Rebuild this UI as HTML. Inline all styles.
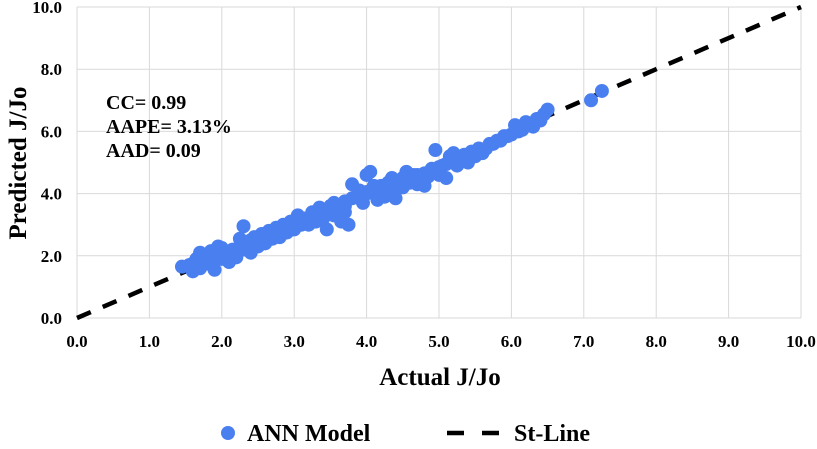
<!DOCTYPE html>
<html><head><meta charset="utf-8"><style>
body{margin:0;background:#fff;width:817px;height:444px;overflow:hidden}
svg{font-family:"Liberation Serif",serif;font-weight:bold}
</style></head><body>
<svg id="c" width="817" height="444"></svg>
<script>
const xTicks=[0,1,2,3,4,5,6,7,8,9,10];
const yTicks=[0,2,4,6,8,10];
const annX=[1.45,1.55,1.6,1.65,1.7,1.75,1.8,1.85,1.9,1.95,2.0,1.7,1.85,2.05,2.1,2.15,2.2,2.25,2.3,2.3,2.35,2.4,2.45,2.5,2.55,2.6,2.65,2.7,2.75,2.8,2.85,2.9,2.95,3.0,3.05,3.1,3.15,3.2,3.25,3.3,3.35,3.4,3.45,3.5,3.55,3.6,3.65,3.7,3.75,3.8,3.85,3.9,3.95,4.0,4.05,4.1,4.15,4.2,4.25,4.3,4.35,4.4,4.45,4.5,4.55,4.6,4.65,4.7,4.75,4.8,4.85,4.9,4.95,5.0,5.05,5.1,5.15,5.2,5.25,5.3,5.4,5.5,5.6,5.65,5.75,5.85,5.9,6.0,6.05,6.1,6.2,6.3,6.35,6.45,6.5,7.1,7.25,2.0,2.2,2.6,3.0,3.4,4.0,4.5,3.6,1.6,
1.75,1.8,1.9,2.0,2.1,2.25,2.4,2.5,2.6,2.7,2.8,2.9,3.0,3.1,3.2,3.3,3.4,3.5,3.6,3.7,3.8,3.9,4.0,4.1,4.2,4.3,4.4,4.5,4.6,4.7,4.8,4.9,5.0,5.1,5.2,5.35,5.45,5.55,5.7,5.8,5.95,6.15,6.25,6.4,3.55,3.7,3.5,4.1,4.35,4.85];
const annY=[1.65,1.7,1.5,1.9,1.6,2.0,1.75,2.15,1.55,2.3,1.9,2.1,1.85,2.1,1.8,2.2,1.95,2.55,2.95,2.2,2.4,2.1,2.6,2.3,2.7,2.4,2.8,2.55,2.9,2.6,3.0,2.75,3.1,2.85,3.3,3.0,3.2,3.0,3.4,3.1,3.55,3.2,2.85,3.45,3.7,3.3,3.1,3.6,3.0,4.3,3.9,4.1,3.7,4.6,4.7,4.0,3.8,4.2,3.9,4.35,4.1,3.85,4.4,4.2,4.7,4.35,4.6,4.3,4.5,4.25,4.6,4.8,5.4,4.6,4.9,4.5,5.2,5.3,4.9,5.1,5.0,5.2,5.3,5.45,5.6,5.7,5.85,5.9,6.2,6.0,6.3,6.15,6.4,6.55,6.7,7.0,7.3,2.25,2.05,2.6,3.1,3.45,4.0,4.5,3.5,1.75,
1.85,2.05,2.0,2.15,2.05,2.3,2.5,2.55,2.65,2.75,2.8,2.95,3.0,3.15,3.2,3.35,3.35,3.5,3.55,3.75,3.85,3.95,4.05,4.15,4.25,4.35,4.3,4.45,4.55,4.6,4.65,4.75,4.85,4.95,5.1,5.25,5.35,5.45,5.6,5.7,5.85,6.05,6.2,6.35,3.3,3.4,3.6,4.25,4.5,4.55];
const lineX=[0,10], lineY=[0,10];
const NS="http://www.w3.org/2000/svg", svg=document.getElementById('c');
const X0=77,X1=801,Y0=318,Y1=7;
const sx=v=>X0+(X1-X0)*v/10, sy=v=>Y0-(Y0-Y1)*v/10;
function mk(t,a,txt){const e=document.createElementNS(NS,t);for(const k in a)e.setAttribute(k,a[k]);if(txt!=null)e.textContent=txt;svg.appendChild(e);return e;}
xTicks.forEach(v=>{
 let e=mk('line',{x1:sx(v),x2:sx(v),y1:Y1,y2:Y0,stroke:'#d9d9d9','stroke-width':1});
 
 e=mk('text',{x:sx(v),y:347,'text-anchor':'middle','font-size':17},v.toFixed(1));
 
});
yTicks.forEach(v=>{
 let e=mk('line',{x1:X0,x2:X1,y1:sy(v),y2:sy(v),stroke:'#d9d9d9','stroke-width':1});
 
 e=mk('text',{x:62,y:sy(v)+6,'text-anchor':'end','font-size':17},v.toFixed(1));
 
});
let l=mk('line',{x1:sx(lineX[0]),y1:sy(lineY[0]),x2:sx(lineX[1]),y2:sy(lineY[1]),stroke:'#000','stroke-width':4.5,'stroke-dasharray':'15 13'});

annX.forEach((x,i)=>{
 const e=mk('circle',{cx:sx(x),cy:sy(annY[i]),r:7,fill:'#4a7ff0'});
 
});
[['CC= 0.99',109],['AAPE= 3.13%',133],['AAD= 0.09',157]].forEach(s=>{
 const e=mk('text',{x:106,y:s[1],'font-size':20},s[0]);
 
});
let t=mk('text',{x:440,y:385,'text-anchor':'middle','font-size':25},'Actual J/Jo');

t=mk('text',{x:0,y:0,'text-anchor':'middle','font-size':25,transform:'translate(26,163) rotate(-90)'},'Predicted J/Jo');

t=mk('circle',{cx:228,cy:433,r:7,fill:'#4a7ff0'});

t=mk('text',{x:247,y:441,'font-size':24},'ANN Model');

t=mk('line',{x1:447,x2:502,y1:433,y2:433,stroke:'#000','stroke-width':4.5,'stroke-dasharray':'17 18'});

t=mk('text',{x:514,y:441,'font-size':24},'St-Line');

</script>
</body></html>
